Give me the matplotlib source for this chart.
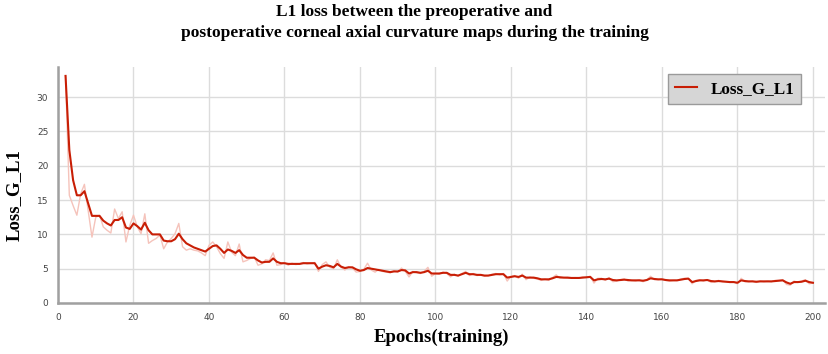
import numpy as np
import matplotlib
matplotlib.use("Agg")
import matplotlib.pyplot as plt

epochs = np.arange(2, 201)

loss_smooth = [
    33.1, 22.3, 17.9, 15.7, 15.7, 16.3, 14.5, 12.7, 12.7, 12.7,
    12.0, 11.6, 11.3, 12.1, 12.1, 12.5, 11.0, 10.8, 11.6, 11.2,
    10.7, 11.7, 10.6, 10.0, 10.0, 10.0, 9.1, 9.0, 9.0, 9.3,
    10.1, 9.3, 8.7, 8.4, 8.1, 7.9, 7.7, 7.5, 7.9, 8.3,
    8.4, 7.9, 7.3, 7.8, 7.6, 7.3, 7.7, 7.0, 6.6, 6.6,
    6.6, 6.2, 5.9, 6.0, 6.0, 6.5, 6.0, 5.8, 5.8, 5.7,
    5.7, 5.7, 5.7, 5.8, 5.8, 5.8, 5.8, 5.0, 5.3, 5.5,
    5.4, 5.2, 5.7, 5.3, 5.1, 5.2, 5.2, 4.9, 4.7, 4.8,
    5.1, 5.0, 4.9, 4.8, 4.7, 4.6, 4.5, 4.6, 4.6, 4.8,
    4.75, 4.3, 4.5, 4.5, 4.4, 4.5, 4.7, 4.3, 4.3, 4.3,
    4.4, 4.4, 4.1, 4.1, 4.0, 4.2, 4.4, 4.2, 4.2, 4.1,
    4.1, 4.0, 4.0, 4.1, 4.2, 4.2, 4.2, 3.7, 3.8, 3.9,
    3.8, 4.0, 3.7, 3.7, 3.7, 3.6, 3.45, 3.45, 3.45, 3.6,
    3.8, 3.75, 3.7, 3.7, 3.65, 3.65, 3.65, 3.7, 3.75, 3.8,
    3.3, 3.45, 3.5, 3.45, 3.55, 3.35, 3.3, 3.35, 3.4, 3.35,
    3.3, 3.3, 3.3, 3.25, 3.35, 3.6, 3.5, 3.45, 3.45, 3.35,
    3.3, 3.3, 3.3, 3.4, 3.5, 3.55, 3.05, 3.2, 3.3, 3.3,
    3.35, 3.2, 3.15, 3.2, 3.15, 3.1, 3.05, 3.05, 2.95, 3.3,
    3.2, 3.15, 3.15, 3.1, 3.15, 3.15, 3.15, 3.15, 3.2, 3.25,
    3.3, 3.0, 2.8, 3.05, 3.05, 3.1, 3.25, 3.05, 2.95,
]

loss_raw = [
    33.1, 15.7, 14.2, 12.8, 15.9, 17.3, 13.5, 9.6, 12.5, 12.8,
    11.1, 10.6, 10.2, 13.7, 12.3, 13.3, 8.9, 11.3, 12.8, 11.1,
    10.1, 13.0, 8.7, 9.1, 9.4, 9.9, 7.9, 8.9, 9.4, 10.1,
    11.6, 8.2, 7.7, 7.9, 7.7, 7.6, 7.3, 6.9, 8.4, 8.9,
    8.2, 7.2, 6.5, 8.9, 7.4, 6.9, 8.6, 6.0, 6.2, 6.5,
    6.7, 5.5, 5.7, 6.3, 6.2, 7.3, 5.5, 5.6, 5.9, 5.5,
    5.8, 5.6, 5.7, 5.9, 5.7, 5.8, 5.9, 4.6, 5.6, 6.0,
    5.2, 5.0, 6.3, 5.2, 4.8, 5.3, 5.1, 4.5, 4.6, 4.9,
    5.8, 4.8, 4.5, 4.9, 4.6, 4.5, 4.4, 4.7, 4.5, 5.1,
    4.6, 3.8, 4.6, 4.4, 4.3, 4.6, 5.2, 3.9, 4.3, 4.2,
    4.5, 4.3, 3.8, 4.2, 3.9, 4.3, 4.6, 4.0, 4.3, 4.0,
    4.1, 3.9, 4.0, 4.2, 4.3, 4.1, 4.3, 3.2, 3.9, 4.0,
    3.6, 4.2, 3.4, 3.8, 3.6, 3.5, 3.3, 3.5, 3.3, 3.7,
    4.1, 3.6, 3.7, 3.6, 3.6, 3.7, 3.6, 3.8, 3.7, 3.9,
    2.9, 3.6, 3.6, 3.3, 3.7, 3.1, 3.2, 3.4, 3.5, 3.2,
    3.3, 3.2, 3.4, 3.1, 3.4, 3.9, 3.4, 3.4, 3.5, 3.3,
    3.2, 3.3, 3.3, 3.5, 3.6, 3.6, 2.8, 3.3, 3.4, 3.2,
    3.4, 3.0, 3.1, 3.3, 3.1, 3.1, 3.0, 3.1, 2.8, 3.6,
    3.1, 3.1, 3.2, 3.0, 3.2, 3.1, 3.2, 3.1, 3.3, 3.3,
    3.4, 2.7, 2.6, 3.2, 3.0, 3.2, 3.4, 2.8, 2.9,
]

fig = plt.figure(figsize=(8.29, 3.54), dpi=100)
ax = fig.add_axes([58/829, 1-303/354, (825-58)/829, (303-67)/354])

ax.plot(epochs, loss_raw, color="#f5c3bb", lw=1.0, zorder=2)
ax.plot(epochs, loss_smooth, color="#c81e05", lw=1.5, zorder=3, label="Loss_G_L1")

ax.set_xlim(0, 203.2)
ax.set_ylim(0, 34.4)
ax.set_xticks(np.arange(0, 201, 20))
ax.set_yticks(np.arange(0, 31, 5))
ax.grid(True, color="#dcdcdc", lw=1.0)
ax.set_axisbelow(True)
for s in ["top", "right"]:
    ax.spines[s].set_visible(False)
ax.spines["left"].set_color("#a0a0a0")
ax.spines["left"].set_linewidth(1.8)
ax.spines["bottom"].set_color("#a0a0a0")
ax.spines["bottom"].set_linewidth(1.8)
ax.tick_params(length=0, labelsize=6.5, labelcolor="#444444", pad=7)

serif = ["Liberation Serif", "DejaVu Serif"]
ax.set_xlabel("Epochs(training)", fontsize=13.5, fontweight="bold", family=serif, labelpad=5)
fig.text(14/829, 1-195/354, "Loss_G_L1", rotation=90, ha="center", va="center",
         fontsize=13.5, fontweight="bold", family=serif)
fig.suptitle("L1 loss between the preoperative and\npostoperative corneal axial curvature maps during the training",
             fontsize=12.5, fontweight="bold", family=serif, y=0.99, x=0.5, linespacing=1.45)

leg = ax.legend(loc="upper right", bbox_to_anchor=(801/829, 1-74/354), bbox_transform=fig.transFigure,
                borderaxespad=0, fancybox=False, handlelength=1.3, borderpad=0.4,
                prop={"family": serif, "weight": "bold", "size": 12.3})
leg.get_frame().set_facecolor("#d6d6d6")
leg.get_frame().set_edgecolor("#9a9a9a")
leg.get_frame().set_alpha(1.0)

fig.savefig("out.png", dpi=100)
